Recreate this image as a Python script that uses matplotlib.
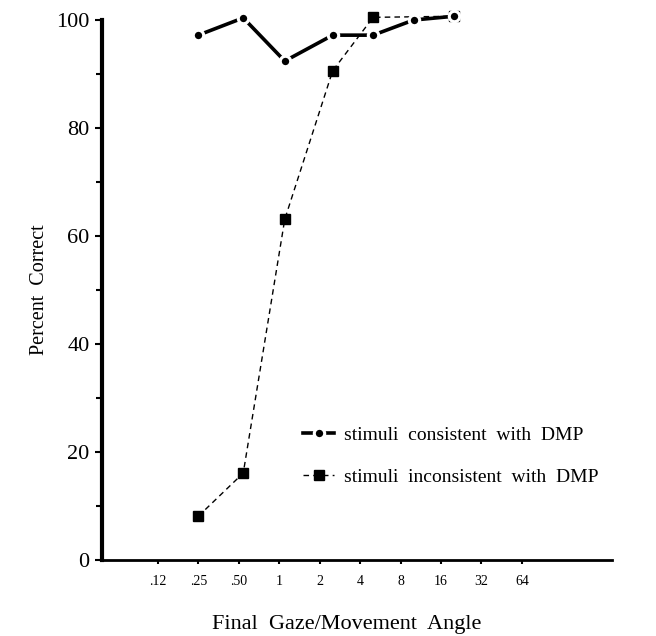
import matplotlib
matplotlib.use("Agg")
import matplotlib.pyplot as plt

# data
angle_tick_vals = [0.125, 0.25, 0.5, 1, 2, 4, 8, 16, 32, 64]
angle_tick_labels = [".12", ".25", ".50", "1", "2", "4", "8", "16", "32", "64"]

consistent_x = [0.25, 0.54, 1.1, 2.5, 5, 10, 20]
consistent_y = [97.2, 100.4, 92.4, 97.2, 97.2, 100.0, 100.7]

inconsistent_x = [0.25, 0.54, 1.1, 2.5, 5, 20]
inconsistent_y = [8.1, 16.1, 63.1, 90.6, 100.5, 100.7]

plt.rcParams['font.family'] = ['Liberation Serif', 'DejaVu Serif']

fig = plt.figure(figsize=(6.56, 6.36), dpi=100)
ax = fig.add_axes([0.1555, 0.1195, 0.7775, 0.8490])

ax.plot(consistent_x, consistent_y, color='black', lw=2.6, marker='o',
        ms=7.5, mfc='black', mec='white', mew=2.2, clip_on=False,
        label='stimuli  consistent  with  DMP', zorder=3)
ax.plot(inconsistent_x, inconsistent_y, color='black', lw=1.0,
        ls=(0, (4, 3)), marker='s', ms=6.5, mfc='black', mec='black',
        clip_on=False, label='stimuli  inconsistent  with  DMP', zorder=2)

ax.set_xscale('log', base=2)
ax.set_xlim(0.048, 300)
ax.set_ylim(0, 100)

ax.set_xticks(angle_tick_vals)
ax.set_xticklabels(angle_tick_labels, fontsize=10)
ax.xaxis.set_minor_locator(matplotlib.ticker.NullLocator())
ax.set_yticks([0, 20, 40, 60, 80, 100])
ax.set_yticks([10, 30, 50, 70, 90], minor=True)
ax.tick_params(axis='y', which='major', labelsize=16, length=5, width=1.5, pad=4)
ax.tick_params(axis='y', which='minor', length=4, width=1.5)
ax.tick_params(axis='x', length=3, width=1.5, pad=8)

for side in ['top', 'right']:
    ax.spines[side].set_visible(False)
ax.spines['left'].set_linewidth(3)
ax.spines['bottom'].set_linewidth(2)

fig.text(40 / 656, 1 - 290 / 636, 'Percent  Correct', rotation=90,
         fontsize=14.5, ha='center', va='center')
fig.text(347 / 656, 1 - 625 / 636, 'Final  Gaze/Movement  Angle',
         fontsize=16, ha='center', va='center')

ax.legend(loc='upper left', bbox_to_anchor=(0.36, 0.28), frameon=False,
          fontsize=14, handlelength=1.6, handletextpad=0.5, labelspacing=1.25)

fig.savefig('out.png', dpi=100)
